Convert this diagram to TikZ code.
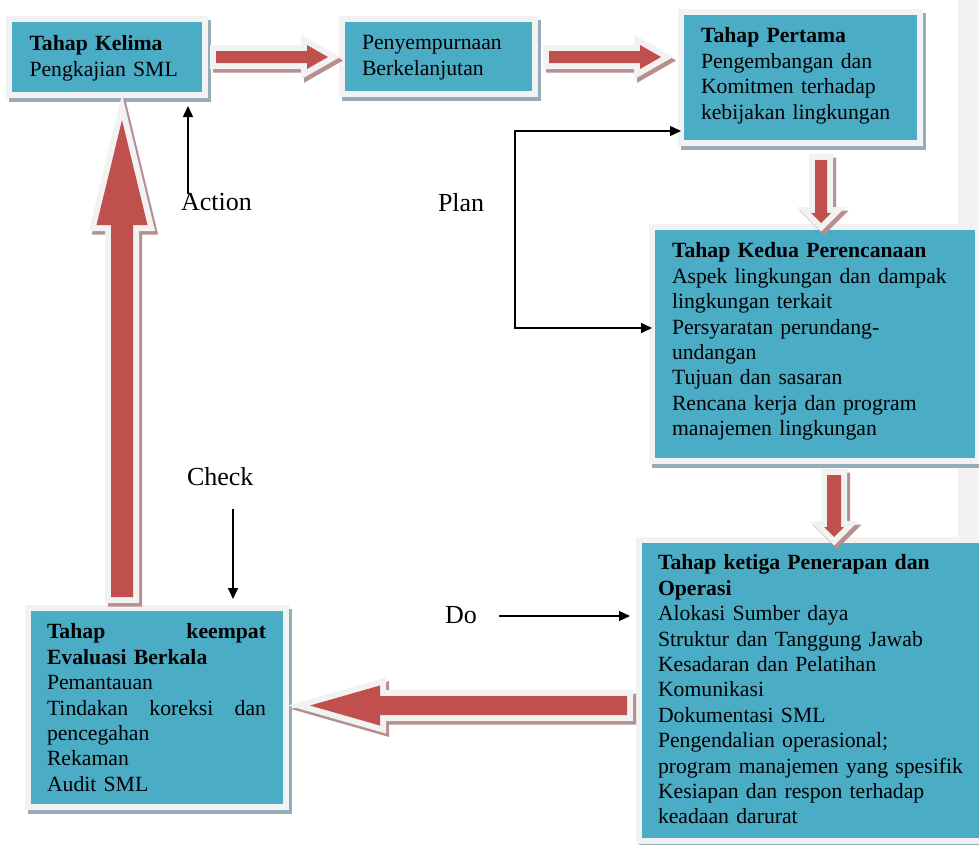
\documentclass[tikz,border=0pt]{standalone}
\usepackage{fontspec}
\setmainfont{Liberation Serif}
\usetikzlibrary{arrows.meta,calc}
\definecolor{tealf}{HTML}{4BACC6}
\definecolor{outl}{HTML}{F2F2F2}
\definecolor{redf}{HTML}{C0504D}
\definecolor{boxsh}{HTML}{94ADB8}
\definecolor{arrsh}{HTML}{B88E8F}
% name, inner x1, y1, x2, y2
\newcommand\mkbox[5]{%
  \fill[boxsh] (#2-3,#3-2) rectangle (#4+9,#5+10);
  \node[boxnode, minimum width={#4-#2+6}, minimum height={#5-#3+6}] (#1) at ({(#2+#4)/2},{(#3+#5)/2}) {};
}
\newcommand\blockarr[1]{%
  \draw[arrsh, line width=12pt, fill=arrsh, shift={(3,3.5)}] #1;
  \draw[outl, line width=12pt] #1;
  \fill[redf] #1;
}
\begin{document}
\begin{tikzpicture}[x=1pt,y=-1pt,
  boxnode/.style={rectangle, fill=tealf, draw=outl, line width=6pt, inner sep=0pt, outer sep=0pt},
  txt/.style={anchor=north west, inner sep=0pt, outer sep=0pt, text width=330pt, align=left,
              font=\fontsize{21.7}{25.4}\selectfont},
  lbl/.style={anchor=base west, inner sep=0pt, outer sep=0pt, font=\fontsize{26}{30}\selectfont},
  thinarr/.style={line width=1.4pt, -{Triangle[length=11pt,width=10pt]}}]
\useasboundingbox (0,0) rectangle (979,844);
\clip (0,0) rectangle (979,844);
\fill[white] (0,0) rectangle (979,844);
\fill[outl] (958,0) rectangle (979,844);

% boxes
\mkbox{kelima}{12}{22}{202}{92}
\mkbox{peny}{345}{22}{532}{91}
\mkbox{pertama}{684}{15}{917}{140}
\mkbox{kedua}{655}{230}{975}{458}
\mkbox{ketiga}{642}{543}{982}{838}
\mkbox{keempat}{31}{611}{283}{804}

% texts
\node[txt] (kelimaT) at (29.5,33.2) {\strut\textbf{Tahap Kelima}\\Pengkajian SML};
\node[txt] (penyT) at (362,32.2) {\strut Penyempurnaan\\Berkelanjutan};
\node[txt] (pertamaT) at (701,25.2) {\strut\textbf{Tahap Pertama}\\Pengembangan dan\\Komitmen terhadap\\kebijakan lingkungan};
\node[txt] (keduaT) at (672,240.2) {\strut\textbf{Tahap Kedua Perencanaan}\\Aspek lingkungan dan dampak\\lingkungan terkait\\Persyaratan perundang-\\undangan\\Tujuan dan sasaran\\Rencana kerja dan program\\manajemen lingkungan};
\node[txt] (ketigaT) at (658,552.2) {\strut\textbf{Tahap ketiga Penerapan dan}\\\textbf{Operasi}\\Alokasi Sumber daya\\Struktur dan Tanggung Jawab\\Kesadaran dan Pelatihan\\Komunikasi\\Dokumentasi SML\\Pengendalian operasional;\\program manajemen yang spesifik\\Kesiapan dan respon terhadap\\keadaan darurat};
\node[txt, text width=219pt] (keempatT) at (47,621.2) {\strut\textbf{Tahap}\hfill\textbf{keempat}\\\textbf{Evaluasi Berkala}\\Pemantauan\\Tindakan\hfill koreksi\hfill dan\\pencegahan\\Rekaman\\Audit SML};

% block arrows
\blockarr{(216,51) -- (307,51) -- (307,45) -- (328,57) -- (307,69) -- (307,63) -- (216,63) -- cycle}
\blockarr{(549,51) -- (640,51) -- (640,45) -- (661,57) -- (640,69) -- (640,63) -- (549,63) -- cycle}
\blockarr{(815,160) -- (827,160) -- (827,213) -- (831,213) -- (821,223) -- (811,213) -- (815,213) -- cycle}
\blockarr{(827,475) -- (841,475) -- (841,527) -- (844,527) -- (834,537) -- (824,527) -- (827,527) -- cycle}
\blockarr{(627,696) -- (380,696) -- (380,685.5) -- (310,705.5) -- (380,725.5) -- (380,715) -- (627,715) -- cycle}
\blockarr{(111,597) -- (111,225) -- (96.5,225) -- (122,120) -- (147.5,225) -- (133,225) -- (133,597) -- cycle}

% labels
\node[lbl] (action) at (181,210) {Action};
\node[lbl] (plan) at (438,211) {Plan};
\node[lbl] (check) at (187,485) {Check};
\node[lbl] (dolbl) at (445,623) {Do};

% thin arrows
\coordinate (actS) at (188,194);
\draw[thinarr] (actS) -- ([yshift=-11pt]actS |- kelima.south);
\coordinate (chkS) at (233,509);
\draw[thinarr] (chkS) -- ([yshift=9pt]chkS |- keempat.north);
\coordinate (plT) at (515,131);
\coordinate (plB) at (515,328);
\draw[line width=1.4pt, {Triangle[length=11pt,width=10pt]}-{Triangle[length=11pt,width=10pt]}]
  (pertama.west |- plT) -- (plT) -- (plB) -- (kedua.west |- plB);
\coordinate (doS) at (499,616);
\draw[thinarr] (doS) -- ([xshift=-9pt]ketiga.west |- doS);
\end{tikzpicture}
\end{document}
